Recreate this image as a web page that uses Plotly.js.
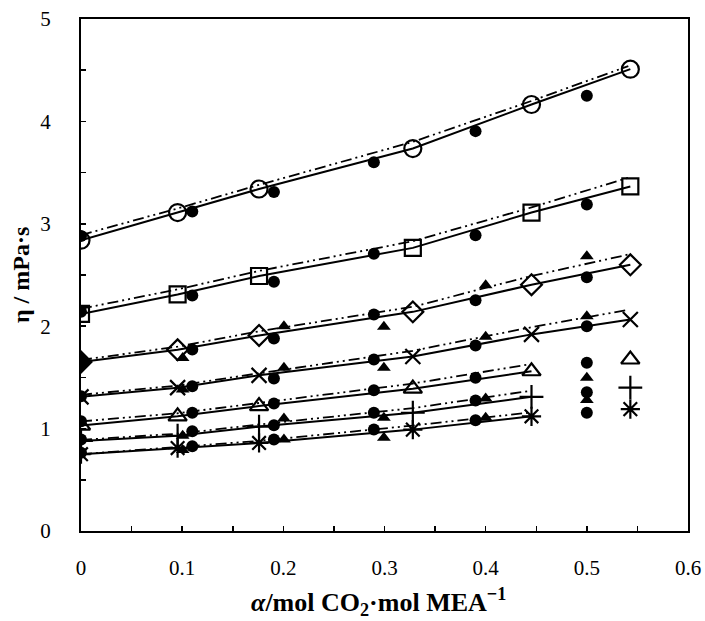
<!DOCTYPE html>
<html>
<head>
<meta charset="utf-8">
<script src="https://cdn.plot.ly/plotly-3.0.1.min.js"></script>
<style>html,body{margin:0;padding:0;background:#fff;}#chart{width:705px;height:621px;}</style>
</head>
<body>
<div id="chart"></div>
<script>
// open-marker series (model points) and solid lines
const xOpen = [0, 0.0955, 0.176, 0.328, 0.4453, 0.543];
const xOpenShort = [0, 0.0955, 0.176, 0.328, 0.4453];
const openCircle = [2.84, 3.11, 3.34, 3.735, 4.165, 4.51];
const openSquare = [2.12, 2.31, 2.49, 2.765, 3.11, 3.365];
const openDiamond = [1.65, 1.77, 1.91, 2.14, 2.405, 2.60];
const openX = [1.31, 1.40, 1.52, 1.705, 1.92, 2.065];
const openTriangle = [1.03, 1.12, 1.22, 1.39, 1.56];
const openPlus = [0.88, 0.93, 1.02, 1.155, 1.31];
const openStar = [0.75, 0.81, 0.86, 0.99, 1.12];
// isolated open points
const xLone = [0.543];
const loneTriangle = [1.675];
const lonePlus = [1.40];
const loneStar = [1.19];
// dash-dot-dot lines
const xDash = [0, 0.0955, 0.176, 0.328, 0.4453, 0.541];
const xDashShort = [0, 0.0955, 0.176, 0.328, 0.4415];
const dash1 = [2.89, 3.15, 3.38, 3.80, 4.20, 4.54];
const dash2 = [2.17, 2.36, 2.54, 2.83, 3.16, 3.45];
const dash3 = [1.67, 1.80, 1.95, 2.19, 2.49, 2.70];
const dash4 = [1.33, 1.42, 1.54, 1.76, 1.99, 2.16];
const dash5 = [1.07, 1.15, 1.25, 1.44, 1.625];
const dash6 = [0.89, 0.95, 1.04, 1.20, 1.365];
const dash7 = [0.75, 0.82, 0.88, 1.03, 1.154];
// filled circles
const xFilled = [0, 0.110, 0.1907, 0.2895, 0.390, 0.500];
const fill1 = [2.88, 3.12, 3.31, 3.60, 3.905, 4.25];
const fill2 = [2.14, 2.30, 2.435, 2.707, 2.889, 3.188];
const fill3 = [1.65, 1.772, 1.88, 2.114, 2.254, 2.479];
const fill4 = [1.316, 1.414, 1.489, 1.675, 1.811, 2.000];
const fill5 = [1.072, 1.154, 1.245, 1.375, 1.496, 1.642];
const fill6 = [0.894, 0.975, 1.033, 1.154, 1.274, 1.356];
const fill7 = [0.764, 0.828, 0.894, 0.991, 1.082, 1.154];
// filled triangles
const xTri = [0.1005, 0.2006, 0.2994, 0.400, 0.500];
const tri3 = [1.69, 2.00, 1.994, 2.40, 2.684];
const tri4 = [1.382, 1.594, 1.594, 1.896, 2.098];
const tri6 = [0.93, 1.099, 1.105, 1.294, 1.496];
const tri7 = [0.79, 0.894, 0.91, 1.105, 1.28];

const traces = [];
const DASH = '11px,4px,2px,4px,2px,4px';
[[xDash,dash1],[xDash,dash2],[xDash,dash3],[xDash,dash4],[xDashShort,dash5],[xDashShort,dash6],[xDashShort,dash7]].forEach(([x,y])=>{
  traces.push({x:x,y:y,mode:'lines',line:{color:'#000',width:1.8,dash:DASH},hoverinfo:'skip'});
});
const solidSets = [
  [xOpen, openCircle, 'circle-open', 17],
  [xOpen, openSquare, 'square-open', 16],
  [xOpen, openDiamond, ['diamond','diamond-open','diamond-open','diamond-open','diamond-open','diamond-open'], 16],
  [xOpen, openX, 'x-thin-open', 15],
  [xOpenShort, openTriangle, 'triangle-up-open', 16],
  [xOpenShort, openPlus, 'cross-thin-open', 17],
  [xOpenShort, openStar, 'asterisk-open', 16]
];
solidSets.forEach(([x,y])=>{
  traces.push({x:x,y:y,mode:'lines',line:{color:'#000',width:2}});
});
[[xFilled,fill1],[xFilled,fill2],[xFilled,fill3],[xFilled,fill4],[xFilled,fill5],[xFilled,fill6],[xFilled,fill7]].forEach(([x,y])=>{
  traces.push({x:x,y:y,mode:'markers',marker:{symbol:'circle',size:12,color:'#000'}});
});
[[xTri,tri3],[xTri,tri4],[xTri,tri6],[xTri,tri7]].forEach(([x,y])=>{
  traces.push({x:x,y:y,mode:'markers',marker:{symbol:'triangle-up',size:12,color:'#000'}});
});
solidSets.forEach(([x,y,sym,sz])=>{
  traces.push({x:x,y:y,mode:'markers',marker:{symbol:sym,size:sz,color:'#000',line:{color:'#000',width:2.2}}});
});
[[loneTriangle,'triangle-up-open',16],[lonePlus,'cross-thin-open',17],[loneStar,'asterisk-open',16]].forEach(([y,sym,sz])=>{
  traces.push({x:xLone,y:y,mode:'markers',marker:{symbol:sym,size:sz,color:'#000',line:{color:'#000',width:2.2}}});
});

const serif = 'Liberation Serif, serif';
const layout = {
  width:705, height:621,
  margin:{l:81,r:17,t:19,b:90},
  paper_bgcolor:'#fff', plot_bgcolor:'#fff',
  showlegend:false,
  font:{family:serif,color:'#000',size:21},
  xaxis:{
    range:[0,0.6], dtick:0.1, tick0:0, showgrid:false, zeroline:false,
    showline:true, linecolor:'#000', linewidth:2, mirror:true,
    ticks:'inside', ticklen:5, tickwidth:1.5, tickcolor:'#000',
    minor:{dtick:0.05, ticks:'inside', ticklen:5, tickwidth:1.5, tickcolor:'#000'},
    ticklabelstandoff:17,
    tickfont:{family:serif,size:21,color:'#000'}
  },
  yaxis:{
    range:[0,5], dtick:1, tick0:0, showgrid:false, zeroline:false,
    showline:true, linecolor:'#000', linewidth:2, mirror:true,
    ticks:'inside', ticklen:5, tickwidth:1.5, tickcolor:'#000',
    minor:{dtick:0.5, ticks:'inside', ticklen:5, tickwidth:1.5, tickcolor:'#000'},
    ticklabelstandoff:24,
    tickfont:{family:serif,size:21,color:'#000'}
  },
  annotations:[{
    text:'<b>η / mPa·s</b>', xref:'paper', yref:'paper', x:-0.0988, y:0.5,
    textangle:-90, showarrow:false, font:{family:serif,size:24,color:'#000'},
    xanchor:'center', yanchor:'middle'
  },{
    text:'<b><i>α</i>/mol CO<sub>2</sub>·mol MEA<sup>−1</sup></b>', xref:'paper', yref:'paper',
    x:0.49, y:-0.138, showarrow:false, font:{family:serif,size:26,color:'#000'},
    xanchor:'center', yanchor:'middle'
  }]
};
Plotly.newPlot('chart', traces, layout, {staticPlot:true, displayModeBar:false});
</script>
</body>
</html>
